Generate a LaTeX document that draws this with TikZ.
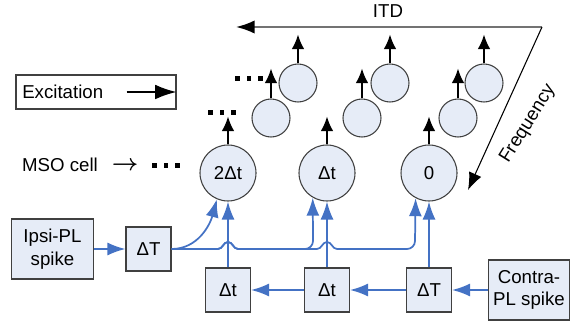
\documentclass[tikz,border=0pt]{standalone}
\usepackage{fontspec}
\setmainfont{Liberation Sans}
\usetikzlibrary{arrows.meta}
\definecolor{cellfill}{RGB}{230,236,247}
\definecolor{linkblue}{RGB}{68,114,196}
\definecolor{edgegray}{RGB}{64,64,64}

\begin{document}
\begin{tikzpicture}[x=0.75pt,y=0.75pt,
		font=\fontsize{14}{17}\selectfont,
		cell/.style={circle,draw=edgegray,fill=cellfill,line width=0.8pt,minimum size=42pt,inner sep=0pt},
		subcell/.style={circle,draw=edgegray,fill=cellfill,line width=0.8pt,minimum size=28.5pt,inner sep=0pt},
		delay/.style={draw=edgegray,fill=cellfill,line width=0.8pt,minimum width=33.75pt,minimum height=33pt,inner sep=0pt},
		spike/.style={draw=edgegray,fill=cellfill,line width=0.8pt,minimum width=61pt,minimum height=45pt,align=center,inner sep=0pt},
		link/.style={linkblue,line width=1.3pt,-{Latex[length=13.5pt,width=9.75pt]}},
		fire/.style={black,line width=1.4pt,-{Latex[length=11pt,width=9.5pt]}}]
		\useasboundingbox (0,0) rectangle (573,324);
		%legend
		\node[draw=edgegray,line width=0.8pt,minimum width=120pt,minimum height=25.5pt] (excite) at (96,232) {};
		\node[anchor=west,inner sep=0pt] (extxt) at (22,232) {Excitation};
		\draw[black,line width=1.4pt,-{Latex[length=16pt,width=11pt]}] ([xshift=-37.5pt]excite.east) -- (excite.east);
		%ITD and frequency axes
		\coordinate (corner) at (542,297);
		\coordinate (itdend) at (236,297);
		\coordinate (freqend) at (468,134);
		\draw[gray!90!black,line width=1.5pt,-{Latex[length=14pt,width=10pt,black]}] (corner) -- (itdend);
		\draw[black,line width=0.8pt,-{Latex[length=13pt,width=10pt]}] (corner) -- (freqend);
		\node (itd) at (388,313) {ITD};
		\node[rotate=58,inner sep=0pt] (freq) at (528,200) {Frequency};
		%MSO cells
		\node (msolbl) at (60,159) {MSO cell};
		\node[font=\fontsize{16}{16}\selectfont\boldmath] (msoarr) at (125,158) {$\rightarrow$};
		\node[cell] (c2) at (228,151) {2Δt};
		\node[cell] (c1) at (327,151) {Δt};
		\node[cell] (c0) at (429,151) {0};
		\foreach \x [count=\i] in {271,362,458}{
			\node[subcell] (r2\i) at (\x,206) {};
		}
		\foreach \x [count=\i] in {298,390,484}{
			\node[subcell] (r3\i) at (\x,241) {};
		}
		%outputs
		\foreach \c in {c2,c1,c0}{
			\draw[fire] (\c.north) -- ++(0,28);
		}
		\foreach \i in {1,2,3}{
			\draw[fire] (r2\i.north) -- ++(0,30);
			\draw[fire] (r3\i.north) -- ++(0,29);
		}
		%dots
		\foreach \ii in {0,1,2}{
			\fill[black] (152+11.5*\ii,156) rectangle ++(4.5,4.5);
			\fill[black] (208+11.5*\ii,209) rectangle ++(4.5,4.5);
			\fill[black] (235+11.5*\ii,243) rectangle ++(4.5,4.5);
		}
		%delay lines
		\node[spike] (ipsi) at (52.5,75) {Ipsi-PL\\spike};
		\node[delay] (dTl) at (148.5,75) {ΔT};
		\node[delay] (dt1) at (228,34) {Δt};
		\node[delay] (dt2) at (327,34) {Δt};
		\node[delay] (dTr) at (429,34) {ΔT};
		\node[spike] (contra) at (529,34) {Contra-\\PL spike};
		\draw[link] (ipsi) -- (dTl);
		\draw[link] (contra) -- (dTr);
		\draw[link] (dTr) -- (dt2);
		\draw[link] (dt2) -- (dt1);
		\draw[link] (dt1) -- (c2);
		\draw[link] (dt2) -- (c1);
		\draw[link] (dTr) -- (c0);
		%ipsi branches
		\draw[link] (dTl.east) to[out=0,in=-105] (c2.-113);
		\draw[link] (dTl.east) -- (218,75) to[out=0,in=180] (228,82) to[out=0,in=180] (238,75)
			-- (305,75) to[out=0,in=-90] (313,83) -- (c1.-120);
		\draw[link] (dTl.east) -- (218,75) to[out=0,in=180] (228,82) to[out=0,in=180] (238,75)
			-- (317,75) to[out=0,in=180] (327,82) to[out=0,in=180] (337,75)
			-- (407,75) to[out=0,in=-90] (415,83) -- (c0.-118);
		\end{tikzpicture}
\end{document}
